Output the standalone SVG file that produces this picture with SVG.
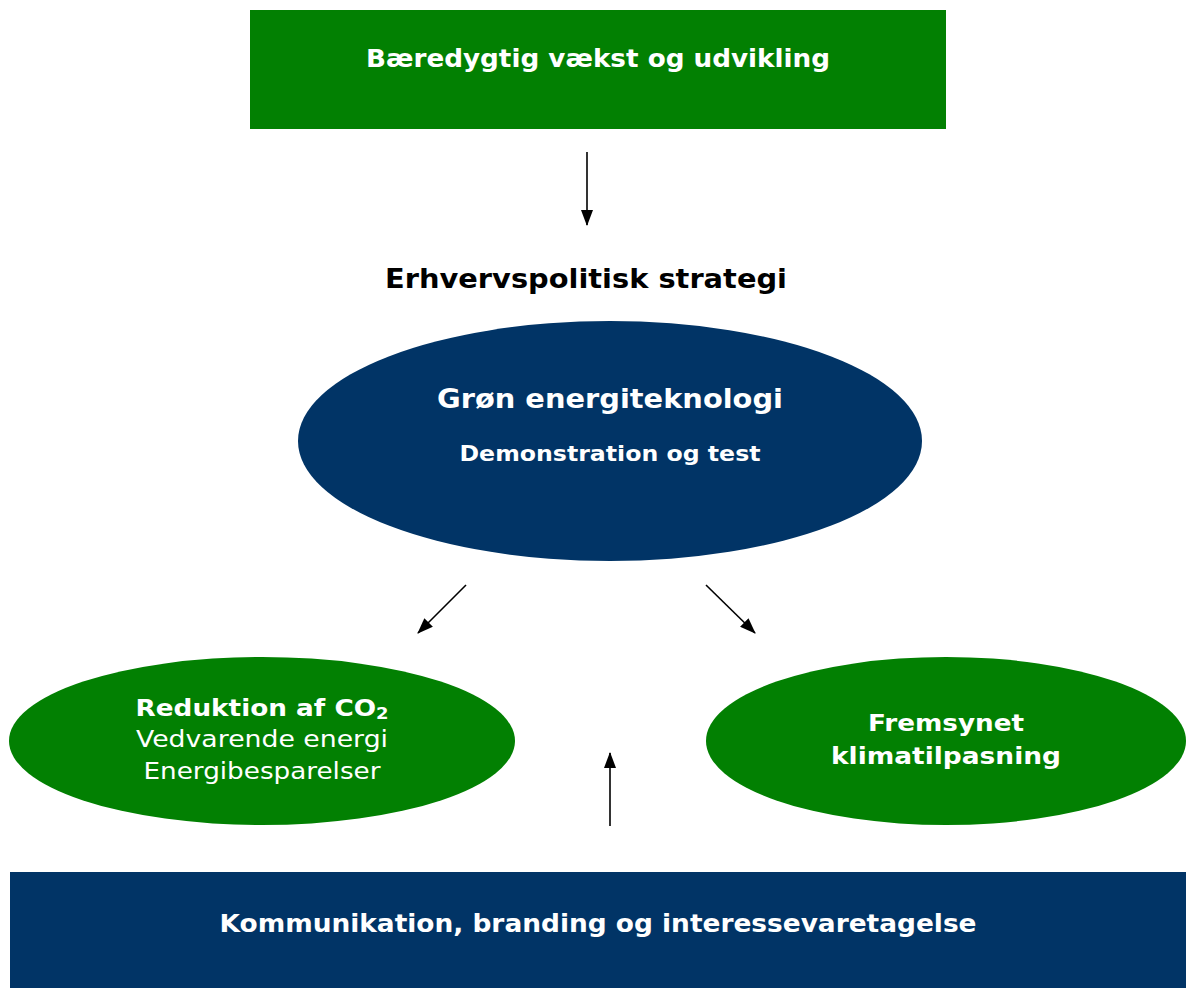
<svg xmlns="http://www.w3.org/2000/svg" width="1186" height="988" viewBox="0 0 1186 988">
<defs>
<marker id="ah" markerWidth="16" markerHeight="12" refX="15" refY="6" orient="auto" markerUnits="userSpaceOnUse" viewBox="0 0 16 12">
<path d="M0,0 L16,6 L0,12 z" fill="#000"/>
</marker>
<style>
text{font-family:"DejaVu Sans","Verdana",sans-serif;text-anchor:middle}
.w{fill:#fff}
.b{font-weight:bold}
.green{fill:#028002}
.navy{fill:#013466}
.conn line{stroke:#000;stroke-width:1.6;marker-end:url(#ah)}
</style>
</defs>
<rect width="1186" height="988" fill="#fff"/>
<g id="top">
<rect class="green" x="250" y="10" width="696" height="119"/>
<text class="w b" x="598" y="67" font-size="24" textLength="464" lengthAdjust="spacingAndGlyphs">Bæredygtig vækst og udvikling</text>
</g>
<g id="strategy">
<text class="b" x="586" y="288" font-size="27" fill="#000" textLength="402" lengthAdjust="spacingAndGlyphs">Erhvervspolitisk strategi</text>
</g>
<g id="gron">
<ellipse class="navy" cx="610" cy="441" rx="312" ry="120"/>
<text class="w b" x="610" y="408" font-size="27" textLength="346" lengthAdjust="spacingAndGlyphs">Grøn energiteknologi</text>
<text class="w b" x="610" y="461" font-size="21.5" textLength="301" lengthAdjust="spacingAndGlyphs">Demonstration og test</text>
</g>
<g id="reduktion">
<ellipse class="green" cx="262" cy="741" rx="253" ry="84"/>
<text class="w b" x="262" y="716" font-size="23.5" textLength="253" lengthAdjust="spacingAndGlyphs">Reduktion af CO<tspan font-size="16" dy="3">2</tspan></text>
<text class="w" x="262" y="747" font-size="23" textLength="252" lengthAdjust="spacingAndGlyphs">Vedvarende energi</text>
<text class="w" x="262" y="779" font-size="23" textLength="237" lengthAdjust="spacingAndGlyphs">Energibesparelser</text>
</g>
<g id="fremsynet">
<ellipse class="green" cx="946" cy="741" rx="240" ry="84"/>
<text class="w b" x="946" y="731" font-size="23" textLength="156" lengthAdjust="spacingAndGlyphs">Fremsynet</text>
<text class="w b" x="946" y="764" font-size="23" textLength="230" lengthAdjust="spacingAndGlyphs">klimatilpasning</text>
</g>
<g id="bottom">
<rect class="navy" x="10" y="872" width="1176" height="116"/>
<text class="w b" x="598" y="932" font-size="24" textLength="757" lengthAdjust="spacingAndGlyphs">Kommunikation, branding og interessevaretagelse</text>
</g>
<g id="connectors" class="conn">
<line x1="587" y1="152" x2="587" y2="225"/>
<line x1="466" y1="585" x2="418" y2="633"/>
<line x1="706" y1="585" x2="755" y2="633"/>
<line x1="610" y1="826" x2="610" y2="753"/>
</g>
</svg>
